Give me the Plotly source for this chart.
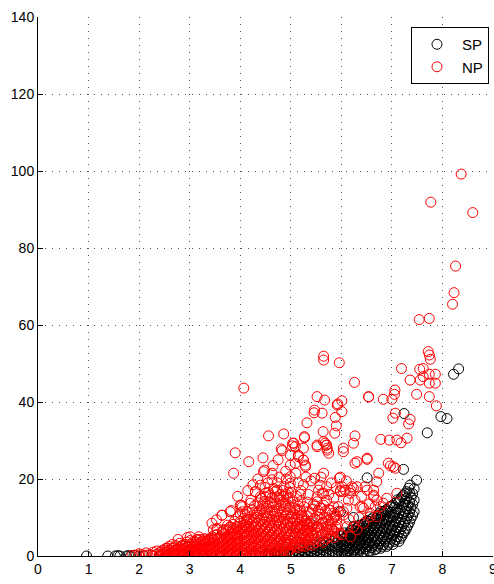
import plotly.graph_objects as go

# ---------------- data ----------------
# SP (black) : isolated points
sp_sparse = [
    (0.96, 0.0), (1.38, 0.0), (1.53, 0.0), (1.58, 0.1), (1.62, 0.0), (1.75, 0.0),
    (1.79, 0.1), (1.83, 0.0), (1.90, 0.2), (2.00, 0.0),
    (7.23, 22.5), (6.51, 20.3), (7.70, 32.0), (7.97, 36.2), (8.09, 35.7),
    (8.22, 47.2), (8.32, 48.6), (7.24, 37.0), (6.25, 7.7), (5.98, 11.5),
    (6.24, 10.0), (5.09, 5.9), (5.38, 8.5), (7.49, 19.7), (7.36, 18.4),
    (7.33, 17.6), (7.29, 16.7), (6.83, 11.5),
]
# SP (black) : dense band, one entry per x column
sp_columns = [
    (2.10, [0.0]), (2.25, [0.2]), (2.40, [0.0]), (2.55, [0.1]), (2.70, [0.0]),
    (2.85, [0.2]), (3.00, [0.0]), (3.15, [0.1]), (3.30, [0.0]), (3.45, [0.2]),
    (3.60, [0.0]), (3.75, [0.1]), (3.90, [0.0]), (4.05, [0.2]), (4.20, [0.0]),
    (4.30, [0.3]), (4.40, [0.0]),
    (4.50, [0.0, 0.4]), (4.56, [0.2, 0.6]), (4.62, [0.0, 0.5]), (4.68, [0.3, 0.8]),
    (4.74, [0.0, 0.6, 1.1]), (4.80, [0.2, 0.9]), (4.86, [0.0, 0.5, 1.3]),
    (4.92, [0.3, 1.0]), (4.98, [0.0, 0.6, 1.5]), (5.04, [0.2, 1.0, 1.9]),
    (5.10, [0.0, 0.6, 1.4]), (5.16, [0.3, 1.1, 2.0]), (5.22, [0.0, 0.7, 1.6, 2.4]),
    (5.28, [0.3, 1.2, 2.1]), (5.34, [0.0, 0.8, 1.7, 2.7]), (5.40, [0.4, 1.3, 2.3]),
    (5.46, [0.0, 0.9, 1.9, 3.0]), (5.52, [0.5, 1.5, 2.6]), (5.58, [0.1, 1.0, 2.1, 3.3]),
    (5.64, [0.5, 1.6, 2.8, 3.8]), (5.70, [0.2, 1.2, 2.3, 3.5]),
    (5.76, [0.6, 1.8, 3.0, 4.3]), (5.82, [0.2, 1.3, 2.5, 3.8]),
    (5.88, [0.7, 2.0, 3.3, 4.8]), (5.94, [0.3, 1.5, 2.8, 4.2]),
    (6.00, [0.8, 2.2, 3.6, 5.2]), (6.06, [0.4, 1.7, 3.1, 4.6, 6.0]),
    (6.12, [1.0, 2.4, 3.9, 5.4]), (6.18, [0.5, 1.9, 3.4, 5.0, 6.5]),
    (6.24, [1.2, 2.7, 4.3, 5.9]), (6.30, [0.7, 2.2, 3.8, 5.5, 7.2]),
    (6.36, [1.5, 3.1, 4.8, 6.5, 8.0]), (6.42, [1.0, 2.6, 4.3, 6.1, 7.8]),
    (6.48, [1.8, 3.5, 5.3, 7.1, 8.8]), (6.54, [1.3, 3.0, 4.8, 6.6, 8.4]),
    (6.60, [2.2, 4.0, 5.9, 7.8, 9.6]), (6.66, [1.6, 3.5, 5.4, 7.3, 9.2]),
    (6.72, [2.6, 4.5, 6.5, 8.5, 10.4]), (6.78, [2.0, 4.0, 6.0, 8.0, 10.0, 11.6]),
    (6.84, [3.0, 5.1, 7.2, 9.3, 11.2]), (6.90, [2.5, 4.6, 6.8, 9.0, 12.1]),
    (6.96, [3.6, 5.8, 8.0, 10.2, 12.8]), (7.02, [3.0, 5.3, 7.6, 9.9, 13.2]),
    (7.08, [4.3, 6.6, 9.0, 11.4, 13.8]), (7.14, [3.8, 6.2, 8.7, 11.1, 14.1]),
    (7.20, [5.2, 7.7, 10.2, 12.7, 15.4]), (7.26, [6.5, 9.0, 11.6, 14.2, 16.2]),
    (7.32, [8.0, 10.6, 13.2]), (7.38, [9.8, 12.5, 15.2]), (7.44, [11.5, 14.5, 17.5]),
    # second, interleaved set of columns
    (6.03, [1.2, 2.9, 4.4]), (6.09, [0.2, 2.0, 3.6, 5.0]), (6.15, [1.4, 3.0, 4.6, 5.8]),
    (6.21, [0.3, 2.3, 4.0, 5.6, 6.8]), (6.27, [1.7, 3.4, 5.0, 6.6]),
    (6.33, [0.5, 2.6, 4.4, 6.1, 7.6]), (6.39, [2.0, 3.8, 5.6, 7.3]),
    (6.45, [0.8, 3.0, 4.9, 6.7, 8.3]), (6.51, [2.4, 4.2, 6.0, 7.8, 9.2]),
    (6.57, [1.2, 3.4, 5.4, 7.2, 9.0]), (6.63, [2.8, 4.8, 6.8, 8.6, 10.0]),
    (6.69, [1.8, 3.9, 6.0, 8.0, 9.8]), (6.75, [3.2, 5.4, 7.5, 9.5, 11.0]),
    (6.81, [2.5, 4.6, 6.6, 8.8, 10.8]), (6.87, [3.8, 6.0, 8.2, 10.4, 11.8]),
    (6.93, [3.0, 5.2, 7.4, 9.6, 11.6]), (6.99, [4.4, 6.7, 9.0, 11.3, 12.9]),
    (7.05, [3.8, 6.0, 8.3, 10.6, 12.6]), (7.11, [5.0, 7.4, 9.8, 12.2, 14.6]),
    (7.17, [4.6, 7.0, 9.4, 11.9, 14.8]), (7.23, [6.0, 8.4, 10.9, 13.4, 15.8]),
    (7.29, [7.2, 9.8, 12.4, 15.0]), (7.35, [8.8, 11.4, 14.0, 16.4]),
    (7.41, [10.6, 13.4, 16.2]),
]

# NP (red) : isolated points
np_sparse = [
    (8.37, 99.2), (7.77, 91.9), (8.60, 89.2), (8.26, 75.3), (8.23, 68.4), (8.20, 65.4),
    (7.74, 61.7), (7.54, 61.4), (7.72, 53.1), (7.74, 52.2), (7.76, 51.1), (7.62, 48.7),
    (7.74, 47.2), (7.86, 47.2), (7.56, 45.7), (7.74, 41.4), (7.88, 39.0),
    (5.96, 50.2), (6.26, 45.1), (6.54, 41.3), (6.83, 40.7), (7.00, 40.7), (7.05, 42.0),
    (7.06, 43.1), (7.19, 48.7), (7.36, 45.7), (7.55, 48.5), (7.62, 46.6), (7.74, 44.9),
    (7.86, 44.9), (7.49, 42.0), (5.92, 39.2), (6.01, 40.3), (6.01, 37.5), (5.88, 36.0),
    (5.90, 33.8), (5.87, 31.9), (6.27, 31.2), (6.04, 28.0), (7.02, 35.8), (7.07, 37.1),
    (7.36, 35.5), (7.33, 34.3), (6.78, 30.3), (6.95, 30.1), (7.10, 30.1), (7.18, 29.4),
    (7.30, 30.6),
    (4.07, 43.6), (5.65, 51.9), (5.52, 41.4), (5.67, 40.5), (5.47, 37.9), (5.46, 37.2),
    (5.62, 37.1), (5.93, 39.5), (5.32, 34.6), (5.64, 32.3), (4.56, 31.2), (4.86, 31.7),
    (5.27, 30.7), (5.06, 29.3), (5.03, 28.6), (4.81, 27.8), (5.52, 28.8), (5.68, 29.3),
    (5.72, 28.0), (3.90, 26.8),
    (4.17, 24.5), (3.87, 21.5), (4.02, 13.2), (3.82, 11.8), (3.64, 10.6), (3.53, 9.4),
    (2.77, 4.3), (2.95, 4.8), (3.15, 4.3), (3.21, 4.3), (3.38, 4.3), (3.44, 5.0),
    (3.47, 6.8), (3.54, 7.2), (3.67, 6.6), (3.77, 6.8), (3.87, 7.2), (4.00, 8.5),
    (4.10, 8.1), (3.86, 5.8),
    (6.04, 27.1), (6.31, 24.5), (6.51, 25.1), (6.93, 24.1), (6.97, 23.4), (7.03, 23.2),
    (7.07, 22.8), (6.74, 21.5), (6.70, 19.3), (6.64, 17.1), (6.47, 18.0), (6.51, 17.1),
    (6.24, 17.6), (6.18, 17.1), (7.10, 16.3), (6.90, 15.0), (6.83, 13.7), (6.64, 15.4),
    (6.67, 12.8), (6.37, 12.8), (6.44, 12.4), (6.14, 14.5), (6.11, 12.4), (5.98, 20.5),
    (5.98, 17.0), (6.57, 10.2), (6.24, 7.6), (6.01, 5.5),
    (4.83, 27.4), (4.99, 23.6), (5.15, 26.2), (5.25, 24.9), (5.29, 23.6), (5.71, 28.8),
    (5.75, 26.7), (6.27, 24.1), (4.46, 21.9), (4.63, 21.5), (4.99, 20.6), (5.15, 19.0),
    (4.99, 18.9), (4.30, 16.7), (4.40, 15.4), (4.50, 16.3), (4.59, 15.8), (4.73, 15.4),
    (4.79, 14.5), (4.89, 13.7), (4.00, 13.2), (4.04, 11.5), (5.19, 14.1), (5.19, 11.9),
    (5.15, 10.2), (5.55, 17.1), (5.62, 16.3), (5.71, 18.0), (5.52, 14.1), (5.65, 13.2),
    (5.98, 16.7), (6.08, 17.1), (6.18, 16.3), (5.78, 11.9), (5.88, 10.2), (5.94, 11.5),
    (6.04, 10.6), (5.32, 8.5), (5.42, 7.6), (5.12, 7.2), (5.22, 5.9), (5.35, 5.5),
    (4.79, 4.2), (4.92, 3.3),
    (4.48, 22.3), (5.04, 29.3), (5.09, 28.4), (5.25, 28.0), (4.99, 26.2), (5.15, 25.8),
    (5.09, 24.1), (5.25, 24.9), (5.29, 23.2), (5.27, 31.0), (5.52, 28.4), (5.70, 28.8),
    (5.65, 29.7), (5.72, 27.5), (5.65, 21.5), (5.96, 20.2), (6.04, 16.7), (6.01, 18.0),
    (6.24, 29.3), (6.51, 25.4), (6.54, 41.4), (5.65, 50.9),
    (5.47, 20.2), (5.58, 18.4), (5.65, 16.3), (5.52, 15.4), (5.71, 14.5), (5.85, 12.8),
    (5.94, 12.8), (6.04, 11.5), (6.27, 14.5), (6.41, 12.8), (6.21, 18.0), (6.31, 18.0),
    (6.64, 15.8), (6.70, 14.5), (6.77, 12.8),
    (4.40, 18.4), (4.50, 15.4), (4.63, 13.7), (4.73, 17.1), (4.86, 15.4), (4.99, 12.8),
    (4.04, 12.8), (4.30, 16.7), (4.20, 13.7), (4.33, 11.1), (4.53, 10.2), (4.76, 9.4),
    (3.64, 10.6), (3.80, 11.5), (3.44, 8.5), (3.54, 6.8), (3.67, 6.8), (3.80, 7.6),
    (3.94, 7.6), (4.00, 6.8), (4.13, 9.4), (4.10, 7.6),
    (3.01, 5.0), (3.18, 5.0), (3.31, 4.2), (3.47, 4.2),
    (5.02, 10.2), (5.12, 7.6), (5.22, 9.4), (5.32, 6.8), (5.42, 5.9), (5.52, 7.6),
    (5.62, 8.5), (5.72, 7.6), (5.81, 6.8), (5.91, 9.4), (5.98, 5.9), (6.11, 7.6),
    (6.18, 5.0), (6.31, 6.8), (6.44, 8.5), (6.57, 11.1), (6.70, 10.2),
    (5.25, 18.5), (5.35, 16.0), (5.40, 19.5), (5.45, 13.5), (5.58, 12.5), (5.60, 20.5),
    (5.75, 16.0), (5.80, 19.0), (5.85, 15.0), (5.90, 17.8), (6.10, 19.5), (6.15, 9.5),
    (6.35, 10.0), (6.40, 15.5), (6.55, 13.5), (5.30, 20.5), (5.10, 21.5), (5.20, 17.0),
    (4.95, 16.5), (4.55, 19.0), (4.35, 20.0), (4.25, 18.5), (4.65, 23.5), (4.90, 22.0),
    (4.15, 17.0), (3.95, 15.5), (4.45, 25.5), (4.75, 25.0),
]
# NP (red) : dense band near zero, one entry per x column
np_columns = [
    (1.86, [0.1]), (1.93, [0.2]), (2.00, [0.0, 0.6]), (2.07, [0.3]), (2.14, [0.1, 0.8]),
    (2.21, [0.4]), (2.28, [0.0, 1.0]), (2.35, [0.5, 1.3]), (2.42, [0.2, 1.0]),
    (2.49, [0.6, 1.6]), (2.56, [0.1, 1.1, 2.0]), (2.63, [0.5, 1.5]),
    (2.70, [0.2, 1.2, 2.4]), (2.77, [0.7, 1.8]), (2.84, [0.3, 1.4, 2.6]),
    (2.91, [0.8, 2.0, 3.0]), (2.98, [0.2, 1.3, 2.5]), (3.05, [0.6, 1.8, 3.2]),
    (3.12, [0.1, 1.2, 2.4, 3.6]), (3.19, [0.7, 2.0, 3.0]), (3.26, [0.3, 1.5, 2.8, 3.9]),
    (3.33, [0.9, 2.2, 3.5]), (3.40, [0.2, 1.4, 2.7, 4.0]), (3.47, [0.8, 2.0, 3.3]),
    (3.54, [0.3, 1.5, 2.8, 4.2, 5.6]), (3.61, [1.0, 2.3, 3.6, 5.0]),
    (3.68, [0.4, 1.7, 3.0, 4.4, 5.8]), (3.75, [1.1, 2.4, 3.8, 5.2, 8.0]),
    (3.82, [0.5, 1.8, 3.2, 4.6, 6.2]), (3.89, [1.2, 2.6, 4.0, 5.4, 9.0]),
    (3.96, [0.4, 1.9, 3.3, 4.8, 6.4, 10.2]), (4.03, [1.1, 2.5, 4.0, 5.6, 7.2]),
    (4.10, [0.5, 1.9, 3.4, 4.9, 6.5, 10.8]), (4.17, [1.2, 2.7, 4.2, 5.8, 7.6, 9.5]),
    (4.24, [0.6, 2.0, 3.5, 5.1, 6.8, 8.6, 12.0]), (4.31, [1.3, 2.8, 4.4, 6.0, 7.8, 10.0]),
    (4.38, [0.7, 2.2, 3.7, 5.3, 7.0, 9.2, 11.8]), (4.45, [1.4, 3.0, 4.6, 6.3, 8.2, 10.6, 13.5]),
    (4.52, [0.8, 2.3, 3.9, 5.6, 7.4, 9.6, 12.4]), (4.59, [1.5, 3.1, 4.8, 6.6, 8.6, 11.2, 14.0]),
    (4.66, [0.9, 2.5, 4.1, 5.9, 7.9, 10.2, 12.8, 17.5]),
    (4.73, [1.6, 3.3, 5.0, 6.9, 9.0, 11.6, 19.0]),
    (4.80, [1.0, 2.7, 4.4, 6.2, 8.3, 10.6, 13.2, 16.0]),
    (4.87, [1.8, 3.5, 5.3, 7.3, 9.5, 12.0, 18.0]),
    (4.94, [1.2, 2.9, 4.7, 6.6, 8.8, 11.0, 14.8]),
    (5.01, [2.0, 3.8, 5.6, 7.8, 10.0, 16.5]), (5.08, [2.4, 3.2, 5.0, 7.0, 9.2, 12.5]),
    (5.15, [2.2, 4.0, 6.0, 8.2, 13.0]), (5.22, [2.6, 3.4, 5.3, 7.4, 10.5]),
    (5.29, [2.5, 4.4, 6.5, 9.0]), (5.36, [3.0, 4.9, 7.2, 11.5]),
    (5.43, [2.8, 5.4, 8.0, 12.2]), (5.50, [3.5, 6.0, 9.3]), (5.57, [4.0, 6.8, 10.8]),
    (5.64, [3.6, 5.6, 8.8]), (5.71, [4.5, 7.0, 10.0]), (5.78, [5.2, 8.2]),
    (5.85, [4.8, 6.5, 9.8]), (5.92, [6.0, 8.0]),
    # second, interleaved set of columns
    (2.45, [0.3, 1.4]), (2.52, [0.0, 0.9, 1.9]), (2.59, [0.4, 1.5, 2.5]),
    (2.66, [0.0, 0.9, 2.0, 3.0]), (2.73, [0.4, 1.5, 2.7]), (2.80, [0.1, 1.0, 2.2, 3.3]),
    (2.87, [0.5, 1.7, 2.9]), (2.94, [0.1, 1.1, 2.3, 3.6]), (3.01, [0.5, 1.7, 3.0, 4.0]),
    (3.08, [0.1, 1.2, 2.5, 3.8]), (3.15, [0.5, 1.8, 3.1, 4.2]), (3.22, [0.1, 1.2, 2.5, 3.6]),
    (3.29, [0.6, 1.9, 3.2, 4.5]), (3.36, [0.1, 1.3, 2.6, 3.9]), (3.43, [0.6, 1.9, 3.2, 4.6]),
    (3.50, [0.1, 1.3, 2.6, 4.0, 5.4]),
    (3.58, [0.6, 1.9, 3.2, 4.6]), (3.65, [0.2, 1.3, 2.6, 4.0, 6.2]),
    (3.72, [0.8, 2.0, 3.4, 4.8, 6.8]), (3.79, [0.3, 1.5, 2.9, 4.2, 5.6, 7.4]),
    (3.86, [0.9, 2.2, 3.6, 5.0, 6.6, 8.2]), (3.93, [0.3, 1.6, 3.0, 4.4, 5.8, 7.6]),
    (4.00, [0.8, 2.2, 3.6, 5.2, 6.8, 9.0, 11.0]), (4.07, [0.3, 1.6, 3.0, 4.6, 6.2, 8.0, 9.8]),
    (4.14, [0.9, 2.3, 3.8, 5.4, 7.0, 8.8, 11.6]),
    (4.21, [0.3, 1.6, 3.1, 4.7, 6.4, 8.2, 10.2, 14.5]),
    (4.28, [0.9, 2.4, 3.9, 5.6, 7.3, 9.2, 11.2, 13.0]),
    (4.35, [0.3, 1.7, 3.2, 4.8, 6.5, 8.4, 10.6, 13.8]),
    (4.42, [1.0, 2.5, 4.1, 5.8, 7.6, 9.8, 12.2, 15.0]),
    (4.49, [0.3, 1.8, 3.4, 5.1, 6.9, 8.9, 11.3, 14.2, 17.8]),
    (4.56, [1.1, 2.7, 4.4, 6.2, 8.1, 10.4, 12.9, 16.5]),
    (4.63, [0.4, 2.0, 3.6, 5.4, 7.3, 9.4, 11.8, 15.2, 19.8]),
    (4.70, [1.2, 2.9, 4.6, 6.5, 8.6, 10.9, 13.5, 16.8]),
    (4.77, [0.5, 2.1, 3.9, 5.8, 7.8, 10.0, 12.4, 15.0, 20.5]),
    (4.84, [1.3, 3.1, 5.0, 7.0, 9.0, 11.3, 14.0, 17.0]),
    (4.91, [0.6, 2.3, 4.1, 6.1, 8.2, 10.4, 12.9, 16.0, 20.0]),
    (4.98, [1.5, 3.3, 5.3, 7.3, 9.6, 12.0, 15.0, 17.8]),
    (5.05, [2.8, 4.6, 6.5, 8.6, 11.0, 14.0]), (5.12, [3.6, 5.5, 7.6, 9.8, 12.0, 15.5]),
    (5.19, [3.0, 4.8, 6.8, 8.8, 11.2, 16.0]), (5.26, [3.5, 5.6, 7.8, 10.0, 12.8]),
    (5.33, [4.0, 6.0, 8.2, 10.4, 14.0]), (5.40, [4.4, 6.6, 9.0, 11.0]),
    (5.47, [4.2, 7.0, 9.8, 13.0]), (5.54, [5.0, 7.6, 11.8]), (5.61, [5.4, 7.4, 9.6, 12.4]),
    (5.68, [6.2, 8.5, 11.6]), (5.75, [6.0, 9.2, 12.0]), (5.82, [7.0, 9.0, 11.0]),
    (5.89, [7.6, 10.8]),
]

# ---------------- build the trace arrays ----------------
sp_x = [c[0] for c in sp_columns for _ in c[1]] + [p[0] for p in sp_sparse]
sp_y = [v for c in sp_columns for v in c[1]] + [p[1] for p in sp_sparse]
np_x = [c[0] for c in np_columns for _ in c[1]] + [p[0] for p in np_sparse]
np_y = [v for c in np_columns for v in c[1]] + [p[1] for p in np_sparse]

x_ticks = list(range(0, 10))
y_ticks = list(range(0, 141, 20))

FONT = "Liberation Sans, Arial, Helvetica, sans-serif"

fig = go.Figure()
fig.add_trace(go.Scatter(
    x=sp_x, y=sp_y, mode="markers", name="SP",
    marker=dict(symbol="circle-open", size=10, color="#000000", line=dict(width=1, color="#000000")),
))
fig.add_trace(go.Scatter(
    x=np_x, y=np_y, mode="markers", name="NP",
    marker=dict(symbol="circle-open", size=10, color="#ff0000", line=dict(width=1, color="#ff0000")),
))

axis_common = dict(
    showline=True, linecolor="black", linewidth=1, mirror=False,
    ticks="inside", ticklen=5, tickcolor="black", tickwidth=1,
    showgrid=True, gridcolor="#555555", gridwidth=1, griddash="1px,6px",
    zeroline=False, automargin=False, ticklabeloverflow="allow",
    tickfont=dict(family=FONT, size=14, color="black"),
)

fig.update_layout(
    template="none",
    width=494, height=584,
    margin=dict(l=38, r=1, t=17, b=28, pad=0, autoexpand=False),
    paper_bgcolor="white", plot_bgcolor="white",
    showlegend=True,
    legend=dict(
        x=0.9912, y=0.9814, xanchor="right", yanchor="top",
        bgcolor="white", bordercolor="black", borderwidth=1,
        font=dict(family=FONT, size=15, color="black"),
        tracegroupgap=0, itemwidth=40,
    ),
    xaxis=dict(range=[0, 9], tickmode="array", tickvals=x_ticks,
               ticktext=[str(v) for v in x_ticks], **axis_common),
    yaxis=dict(range=[0, 140], tickmode="array", tickvals=y_ticks,
               ticktext=[str(v) for v in y_ticks], **axis_common),
)

fig.write_html(
    "out.html",
    config={"displayModeBar": False},
    post_script="document.body.style.margin='0';document.body.style.overflow='hidden';",
)
